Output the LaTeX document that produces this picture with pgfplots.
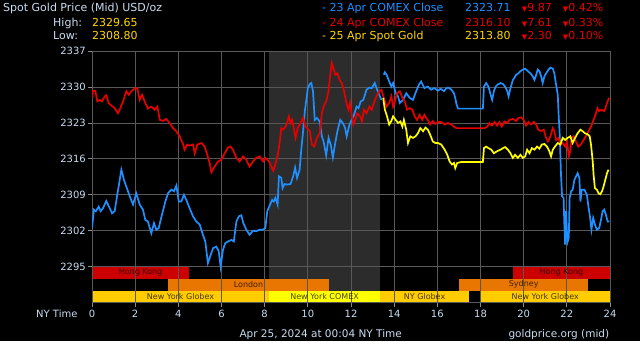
\documentclass[border=0pt]{standalone}
\usepackage{fontspec}
\setmainfont{DejaVu Sans}
\usepackage{pgfplots}
\usepackage{pgfplotstable}
\pgfplotsset{compat=1.18}
\definecolor{lbl}{RGB}{200,220,240}
\definecolor{gline}{RGB}{88,88,88}
\definecolor{tickc}{RGB}{140,140,140}
\definecolor{cblue}{RGB}{30,144,255}
\definecolor{cred}{RGB}{230,0,0}
\definecolor{cyel}{RGB}{255,255,0}
\definecolor{tyel}{RGB}{255,215,0}
\definecolor{hk}{RGB}{204,0,0}
\definecolor{ldn}{RGB}{232,118,0}
\definecolor{nyg}{RGB}{255,204,0}
\definecolor{nyc}{RGB}{255,255,0}
\definecolor{shade}{RGB}{44,44,44}
\pagecolor{black}

\pgfplotstableread{
t v
0.00 2302.5
0.09 2306.1
0.18 2305.8
0.31 2306.7
0.40 2305.8
0.51 2306.4
0.66 2307.8
0.82 2306.4
0.93 2305.4
1.05 2305.8
1.17 2309.0
1.25 2311.0
1.36 2313.9
1.48 2311.9
1.59 2310.6
1.75 2308.7
1.90 2307.1
2.05 2309.3
2.21 2307.1
2.36 2306.1
2.47 2304.1
2.59 2303.8
2.75 2301.5
2.87 2303.5
2.98 2302.2
3.09 2302.5
3.24 2305.1
3.40 2307.7
3.52 2309.3
3.68 2310.0
3.80 2309.7
3.91 2310.8
4.02 2307.7
4.14 2307.7
4.26 2309.0
4.37 2308.0
4.52 2306.4
4.68 2304.8
4.83 2303.8
4.99 2303.2
5.14 2301.2
5.25 2299.9
5.37 2295.7
5.50 2297.3
5.61 2298.6
5.76 2298.9
5.87 2298.0
5.96 2295.0
6.07 2298.3
6.18 2299.6
6.30 2299.9
6.46 2300.2
6.57 2299.9
6.69 2303.8
6.80 2304.8
6.92 2305.0
7.01 2303.5
7.15 2302.2
7.30 2301.2
7.46 2302.0
7.61 2301.9
7.77 2302.2
7.92 2302.2
8.03 2302.5
8.12 2305.8
8.25 2307.1
8.35 2308.0
8.42 2307.7
8.50 2308.4
8.60 2307.1
8.66 2312.6
8.77 2312.3
8.83 2310.3
8.92 2311.1
9.04 2311.0
9.20 2311.1
9.32 2312.6
9.41 2314.3
9.50 2312.3
9.62 2313.9
9.69 2317.5
9.78 2321.4
9.86 2325.3
9.93 2327.5
10.00 2329.8
10.09 2330.6
10.16 2330.8
10.24 2329.2
10.32 2323.6
10.42 2324.0
10.55 2323.3
10.65 2320.4
10.73 2319.4
10.85 2316.7
10.96 2320.1
11.06 2318.8
11.16 2316.3
11.27 2319.1
11.37 2321.4
11.50 2323.6
11.62 2323.0
11.73 2322.0
11.80 2320.4
11.93 2322.7
12.03 2323.6
12.14 2324.6
12.26 2326.2
12.35 2325.9
12.45 2327.2
12.57 2327.5
12.72 2329.5
12.85 2329.9
12.96 2329.8
13.10 2330.8
13.21 2329.5
13.34 2328.2
13.41 2327.5
13.46 nan
13.52 2332.4
13.57 2332.9
13.65 2332.4
13.77 2331.1
13.87 2330.1
13.95 2330.8
14.07 2328.8
14.18 2328.2
14.26 2326.9
14.41 2327.5
14.56 2328.8
14.72 2327.9
14.87 2327.5
15.02 2329.2
15.15 2330.5
15.25 2331.1
15.40 2329.8
15.55 2330.1
15.71 2329.5
15.86 2329.8
16.03 2329.3
16.15 2329.7
16.31 2329.2
16.42 2329.8
16.52 2329.9
16.65 2329.5
16.77 2328.8
16.83 2327.9
16.89 2326.6
16.96 2325.8
18.11 2325.8
18.16 2330.1
18.26 2330.8
18.37 2330.1
18.47 2328.5
18.54 2327.5
18.62 2329.2
18.70 2330.1
18.80 2330.5
18.93 2330.8
19.04 2330.6
19.14 2330.1
19.24 2329.2
19.30 2328.2
19.39 2329.8
19.50 2331.4
19.57 2331.8
19.65 2332.4
19.76 2332.7
19.85 2333.1
19.96 2333.4
20.07 2333.6
20.19 2333.1
20.31 2332.7
20.42 2332.1
20.50 2331.4
20.58 2332.4
20.65 2333.4
20.73 2333.1
20.81 2332.1
20.88 2330.8
20.96 2332.1
21.04 2332.7
21.15 2333.4
21.24 2333.8
21.35 2333.6
21.42 2332.7
21.50 2330.5
21.58 2328.5
21.62 2324.6
21.67 2320.7
21.70 2316.8
21.73 2312.9
21.78 2308.7
21.85 2308.4
21.88 2303.8
21.92 2299.3
21.96 2305.8
22.01 2301.2
22.04 2299.9
22.09 2300.6
22.13 2308.4
22.20 2309.7
22.27 2310.0
22.35 2311.9
22.43 2312.6
22.50 2313.2
22.58 2312.3
22.63 2307.7
22.69 2310.0
22.81 2310.0
22.93 2309.0
23.00 2306.7
23.08 2304.5
23.14 2302.2
23.22 2304.5
23.30 2303.2
23.39 2302.2
23.50 2302.5
23.58 2304.1
23.66 2305.8
23.73 2306.1
23.81 2305.1
23.89 2303.8
23.97 2303.8
}\blueT

\pgfplotstableread{
t v
0.00 2327.9
0.05 2329.3
0.15 2329.3
0.25 2327.2
0.36 2327.5
0.46 2327.2
0.59 2328.2
0.66 2328.4
0.77 2326.9
0.90 2326.4
1.05 2325.9
1.20 2324.9
1.28 2325.6
1.44 2327.2
1.59 2329.2
1.70 2328.5
1.82 2329.2
1.98 2329.7
2.10 2329.8
2.21 2327.5
2.32 2328.5
2.44 2327.2
2.59 2325.8
2.75 2326.2
2.90 2325.6
3.03 2326.2
3.14 2323.6
3.29 2323.4
3.44 2323.8
3.60 2323.0
3.75 2322.0
3.90 2321.4
4.06 2320.4
4.20 2319.1
4.29 2317.8
4.41 2318.8
4.52 2318.6
4.68 2318.8
4.76 2317.1
4.88 2318.8
5.07 2319.1
5.22 2318.4
5.34 2316.8
5.45 2315.2
5.53 2313.4
5.68 2314.5
5.84 2315.5
5.99 2315.8
6.15 2317.1
6.30 2318.2
6.42 2318.4
6.53 2317.8
6.69 2316.2
6.84 2315.5
7.00 2316.5
7.15 2315.8
7.30 2314.5
7.46 2315.5
7.61 2316.2
7.77 2316.5
7.92 2315.5
8.03 2316.2
8.20 2315.5
8.31 2314.5
8.40 2313.7
8.51 2315.2
8.61 2316.8
8.70 2319.4
8.77 2322.0
8.86 2321.7
8.97 2322.3
9.04 2323.0
9.12 2324.3
9.20 2323.0
9.27 2323.6
9.35 2322.0
9.43 2320.1
9.53 2322.0
9.66 2323.0
9.78 2324.0
9.89 2322.3
9.97 2322.0
10.09 2321.4
10.19 2318.8
10.30 2318.4
10.42 2320.1
10.55 2321.0
10.65 2324.9
10.73 2326.2
10.85 2327.2
10.96 2329.2
11.04 2332.4
11.11 2334.7
11.19 2333.7
11.27 2332.4
11.37 2332.7
11.47 2331.4
11.57 2330.8
11.68 2329.2
11.77 2327.2
11.88 2325.6
11.96 2326.9
12.03 2324.6
12.11 2322.7
12.19 2323.6
12.29 2324.9
12.42 2324.3
12.51 2323.3
12.60 2325.6
12.72 2324.9
12.85 2326.2
12.96 2325.6
13.06 2326.9
13.18 2328.2
13.31 2329.2
13.41 2329.5
13.52 2327.9
13.65 2326.2
13.77 2326.9
13.87 2328.2
13.95 2326.2
14.03 2327.2
14.13 2328.8
14.26 2329.2
14.38 2327.9
14.49 2327.2
14.60 2325.6
14.72 2325.9
14.84 2325.6
14.95 2324.3
15.06 2323.6
15.18 2324.6
15.30 2323.6
15.40 2324.6
15.55 2323.6
15.67 2322.7
15.79 2323.4
15.91 2322.8
16.03 2323.2
16.18 2323.2
16.34 2322.7
16.49 2323.0
16.65 2322.7
16.77 2322.3
16.88 2322.0
18.19 2322.0
18.31 2322.3
18.42 2323.0
18.53 2322.5
18.65 2323.2
18.77 2322.5
18.88 2323.2
18.99 2322.3
19.11 2323.3
19.23 2323.0
19.34 2323.6
19.50 2323.8
19.65 2323.4
19.76 2324.0
19.88 2324.1
20.00 2323.6
20.11 2322.5
20.22 2323.2
20.34 2322.7
20.47 2323.2
20.58 2322.7
20.68 2321.7
20.81 2321.4
20.93 2321.7
21.04 2320.1
21.12 2319.4
21.24 2320.4
21.35 2322.0
21.42 2321.4
21.50 2319.7
21.61 2320.1
21.70 2318.8
21.81 2319.1
21.92 2318.4
22.01 2319.4
22.09 2316.5
22.16 2317.5
22.22 2320.1
22.31 2320.4
22.42 2319.4
22.53 2318.4
22.65 2318.8
22.78 2319.7
22.88 2320.4
23.00 2321.4
23.12 2322.3
23.24 2323.6
23.35 2324.9
23.42 2325.9
23.50 2325.3
23.61 2325.6
23.73 2325.3
23.81 2326.2
23.88 2327.1
23.96 2327.9
}\redT

\pgfplotstableread{
t v
13.49 2327.9
13.57 2325.6
13.65 2324.6
13.77 2322.7
13.87 2323.4
13.95 2324.3
14.07 2323.6
14.18 2323.0
14.29 2323.3
14.38 2322.3
14.45 2323.6
14.56 2321.7
14.64 2319.1
14.75 2320.4
14.87 2320.1
14.99 2320.4
15.10 2321.0
15.21 2322.0
15.34 2321.4
15.45 2322.1
15.56 2321.7
15.67 2320.7
15.79 2319.4
15.91 2319.1
16.03 2319.1
16.18 2318.8
16.34 2317.8
16.46 2316.8
16.57 2315.5
16.68 2314.9
16.77 2315.2
16.83 2314.2
16.92 2315.2
17.11 2315.4
18.11 2315.4
18.16 2318.1
18.26 2318.4
18.37 2318.1
18.50 2317.8
18.62 2317.1
18.77 2317.5
18.93 2317.8
19.04 2318.1
19.14 2318.3
19.27 2317.8
19.39 2317.1
19.50 2316.2
19.60 2316.8
19.73 2316.2
19.85 2316.8
19.96 2316.2
20.07 2316.5
20.16 2317.8
20.27 2317.1
20.38 2318.1
20.50 2317.8
20.62 2318.4
20.73 2318.0
20.84 2318.8
20.96 2318.9
21.08 2318.4
21.19 2317.5
21.27 2316.5
21.35 2317.8
21.45 2318.4
21.58 2319.1
21.70 2318.8
21.81 2320.1
21.92 2319.7
22.04 2320.1
22.16 2320.4
22.27 2319.1
22.38 2320.1
22.50 2321.0
22.63 2321.7
22.73 2321.4
22.84 2321.0
22.96 2320.8
23.06 2320.4
23.12 2318.8
23.20 2315.5
23.24 2312.9
23.30 2310.3
23.39 2310.0
23.47 2309.3
23.55 2309.1
23.63 2309.7
23.70 2310.6
23.78 2311.9
23.86 2313.2
23.93 2313.9
}\yelT

\begin{document}
\begin{tikzpicture}
\path (0pt,0pt) rectangle (640pt,341pt);
% header
\begin{scope}[every node/.style={inner sep=0pt, anchor=base west, font=\fontsize{11}{13}\selectfont}]
\node[text=lbl] at (3pt,329.3pt) {Spot Gold Price (Mid) USD/oz};
\node[text=lbl] at (53pt,315pt) {High:};
\node[text=tyel] at (92pt,315pt) {2329.65};
\node[text=lbl] at (53pt,301.3pt) {Low:};
\node[text=tyel] at (92pt,301.3pt) {2308.80};
\node[text=cblue] at (322pt,329.3pt) {- 23 Apr COMEX Close};
\node[text=cblue] at (465pt,329.3pt) {2323.71};
\node[text=cred] at (521.7pt,329.3pt) {{\fontsize{7}{8}\selectfont ▼}9.87};
\node[text=cred] at (562.7pt,329.3pt) {{\fontsize{7}{8}\selectfont ▼}0.42\%};
\node[text=cred] at (322pt,315pt) {- 24 Apr COMEX Close};
\node[text=cred] at (465pt,315pt) {2316.10};
\node[text=cred] at (521.7pt,315pt) {{\fontsize{7}{8}\selectfont ▼}7.61};
\node[text=cred] at (562.7pt,315pt) {{\fontsize{7}{8}\selectfont ▼}0.33\%};
\node[text=tyel] at (322pt,301.3pt) {- 25 Apr Spot Gold};
\node[text=tyel] at (465pt,301.3pt) {2313.80};
\node[text=cred] at (521.7pt,301.3pt) {{\fontsize{7}{8}\selectfont ▼}2.30};
\node[text=cred] at (562.7pt,301.3pt) {{\fontsize{7}{8}\selectfont ▼}0.10\%};
\end{scope}
\begin{scope}[every node/.style={inner sep=0pt, anchor=base west, text=lbl}]
\node[font=\fontsize{10}{12}\selectfont] at (36pt,24pt) {NY Time};
\node[font=\fontsize{10.5}{12}\selectfont] at (239.3pt,3.7pt) {Apr 25, 2024 at 00:04 NY Time};
\node[font=\fontsize{10.5}{12}\selectfont] at (508.3pt,3.7pt) {goldprice.org (mid)};
\end{scope}
\begin{axis}[
  at={(92pt,38.4pt)}, anchor=south west, scale only axis,
  width=518pt, height=251.4pt,
  xmin=0, xmax=24, ymin=2287.98, ymax=2337,
  set layers,
  xtick={0,2,...,24}, ytick={2295,2302,...,2337},
  grid=major, grid style={gline, line width=1pt},
  axis line style={gline, line width=1pt},
  tick style={tickc, line width=1pt},
  tick align=outside, major tick length=4.5pt, tick pos=left,
  /pgf/number format/assume math mode=true,
  /pgf/number format/1000 sep={},
  ticklabel style={font=\fontsize{10}{12}\selectfont, text=lbl, inner sep=0pt},
  xticklabel style={anchor=base, yshift=-9.9pt},
  yticklabel style={anchor=east, xshift=-1.5pt},
  unbounded coords=jump,
  clip=true,
]
% shaded COMEX window
\addplot[fill=shade, draw=none, on layer=axis background] coordinates {(8.2,2287.98) (13.35,2287.98) (13.35,2337) (8.2,2337)} -- cycle;
% session bars
\addplot[fill=hk, draw=none, on layer=axis background] coordinates {(0,2292.66) (4.5,2292.66) (4.5,2295) (0,2295)} -- cycle;
\addplot[fill=hk, draw=none, on layer=axis background] coordinates {(19.5,2292.66) (24,2292.66) (24,2295) (19.5,2295)} -- cycle;
\addplot[fill=ldn, draw=none, on layer=axis background] coordinates {(3.5,2290.32) (11,2290.32) (11,2292.66) (3.5,2292.66)} -- cycle;
\addplot[fill=ldn, draw=none, on layer=axis background] coordinates {(17,2290.32) (23,2290.32) (23,2292.66) (17,2292.66)} -- cycle;
\addplot[fill=nyg, draw=none, on layer=axis background] coordinates {(0,2287.98) (8.2,2287.98) (8.2,2290.32) (0,2290.32)} -- cycle;
\addplot[fill=nyc, draw=none, on layer=axis background] coordinates {(8.2,2287.98) (13.35,2287.98) (13.35,2290.32) (8.2,2290.32)} -- cycle;
\addplot[fill=nyg, draw=none, on layer=axis background] coordinates {(13.35,2287.98) (17.47,2287.98) (17.47,2290.32) (13.35,2290.32)} -- cycle;
\addplot[fill=nyg, draw=none, on layer=axis background] coordinates {(18,2287.98) (24,2287.98) (24,2290.32) (18,2290.32)} -- cycle;
\begin{scope}[every node/.style={font=\fontsize{8}{9}\selectfont, text=black, text opacity=0.72, inner sep=0pt}]
\node at (2.25,2293.83) {Hong Kong};
\node at (21.75,2293.83) {Hong Kong};
\node at (7.25,2291.49) {London};
\node at (20,2291.49) {Sydney};
\node at (4.1,2289.15) {New York Globex};
\node at (10.775,2289.15) {New York COMEX};
\node at (15.41,2289.15) {NY Globex};
\node at (21,2289.15) {New York Globex};
\end{scope}
\addplot[cblue, line width=1.7pt] table[x=t, y=v] {\blueT};
\addplot[cred, line width=1.7pt] table[x=t, y=v] {\redT};
\addplot[cyel, line width=1.7pt] table[x=t, y=v] {\yelT};
\end{axis}
\end{tikzpicture}
\end{document}
